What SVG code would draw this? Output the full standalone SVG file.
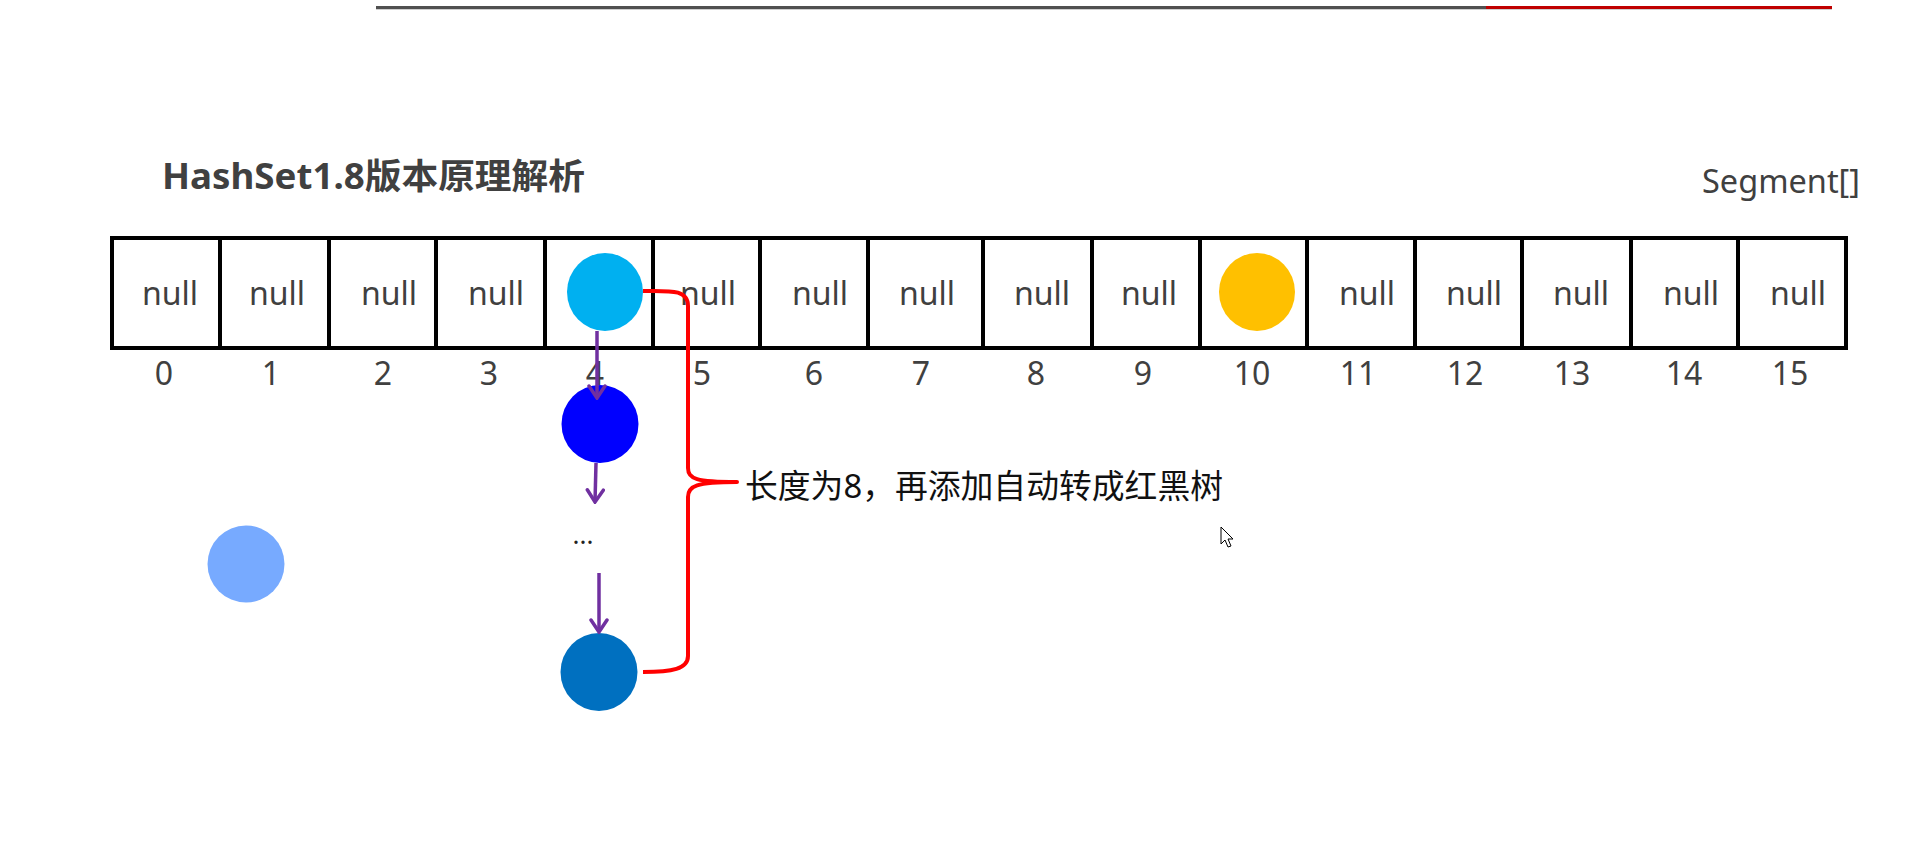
<svg xmlns="http://www.w3.org/2000/svg" width="1917" height="849" viewBox="0 0 1917 849">
<style>
.t{font-family:"Noto Sans","Noto Sans CJK SC",sans-serif;fill:#404040}
.null{font-size:32px;text-anchor:middle}
.idx{font-size:32px;text-anchor:middle}
.cell{fill:#fff;stroke:#000;stroke-width:4}
.arr{stroke:#7030A0;stroke-width:3.5;fill:none;marker-end:url(#ah)}
</style>
<defs>
<marker id="ah" viewBox="-15 -10 17 20" refX="0" refY="0" markerWidth="17" markerHeight="20" orient="auto" markerUnits="userSpaceOnUse">
<path d="M-12,-8 L0,0 L-12,8" fill="none" stroke="#7030A0" stroke-width="3.5" stroke-linecap="round" stroke-linejoin="miter"/>
</marker>
</defs>
<rect width="1917" height="849" fill="#fff"/>
<g id="topbar">
<rect x="376" y="6" width="1110" height="3" fill="#505050"/>
<rect x="1486" y="6" width="346" height="3" fill="#c00000"/>
<rect x="376" y="9" width="1456" height="1" fill="#cfcfcf"/>
</g>
<g id="title"><text class="t" x="162" y="189" font-size="35" font-weight="bold" textLength="423" lengthAdjust="spacingAndGlyphs">HashSet1.8版本原理解析</text></g>
<g id="segment-label"><text class="t" x="1702" y="193" font-size="33" textLength="158" lengthAdjust="spacingAndGlyphs">Segment[]</text></g>
<g id="array">
<rect class="cell" x="112" y="238" width="1734" height="110"/>
<path d="M220,238V348M329,238V348M436,238V348M545,238V348M653,238V348M760,238V348M868,238V348M983,238V348M1092,238V348M1200,238V348M1307,238V348M1415,238V348M1522,238V348M1631,238V348M1738,238V348" stroke="#000" stroke-width="4"/>
<g class="t null">
<text x="170" y="305">null</text>
<text x="277" y="305">null</text>
<text x="389" y="305">null</text>
<text x="496" y="305">null</text>
<text x="708" y="305">null</text>
<text x="820" y="305">null</text>
<text x="927" y="305">null</text>
<text x="1042" y="305">null</text>
<text x="1149" y="305">null</text>
<text x="1367" y="305">null</text>
<text x="1474" y="305">null</text>
<text x="1581" y="305">null</text>
<text x="1691" y="305">null</text>
<text x="1798" y="305">null</text>
</g>
<g class="t idx">
<text x="164" y="385">0</text>
<text x="271" y="385">1</text>
<text x="383" y="385">2</text>
<text x="489" y="385">3</text>
<text x="595" y="385">4</text>
<text x="702" y="385">5</text>
<text x="814" y="385">6</text>
<text x="921" y="385">7</text>
<text x="1036" y="385">8</text>
<text x="1143" y="385">9</text>
<text x="1252" y="385">10</text>
<text x="1358" y="385">11</text>
<text x="1465" y="385">12</text>
<text x="1572" y="385">13</text>
<text x="1684" y="385">14</text>
<text x="1790" y="385">15</text>
</g>
</g>
<g id="node-cyan"><ellipse cx="605" cy="292" rx="38" ry="39" fill="#00B0F0"/></g>
<g id="node-orange"><ellipse cx="1257" cy="292" rx="38" ry="39" fill="#FFC000"/></g>
<g id="node-blue"><ellipse cx="600" cy="424" rx="38.5" ry="39" fill="#0000FF"/></g>
<g id="node-darkblue"><ellipse cx="599" cy="672" rx="38.5" ry="39" fill="#0070C0"/></g>
<g id="node-lightblue"><circle cx="246" cy="564" r="38.5" fill="#77AAFF"/></g>
<g id="ellipsis"><text x="583" y="544" font-family="Noto Sans, sans-serif" font-size="26" text-anchor="middle" fill="#222">...</text></g>
<g id="connectors">
<line class="arr" x1="597" y1="331" x2="597" y2="398"/>
<line class="arr" x1="596" y1="463" x2="595" y2="502"/>
<line class="arr" x1="599" y1="573" x2="599" y2="632"/>
<path d="M643,291 C670,291 688,289 688,306 L688,468 C688,479 696,482 737,482 C696,482 688,486 688,497 L688,656 C688,669 672,672 643,672" fill="none" stroke="#FF0000" stroke-width="4" stroke-linejoin="round"/>
</g>
<g id="annotation"><text x="745" y="498" font-family="Noto Sans, Noto Sans CJK SC, sans-serif" font-size="33" fill="#111" textLength="478" lengthAdjust="spacingAndGlyphs">长度为8，再添加自动转成红黑树</text></g>
<g id="cursor"><path d="M1221,527 L1221,544 L1225,540 L1228,547 L1231,546 L1228,539 L1233,539 Z" fill="#fff" stroke="#000" stroke-width="1"/></g>
</svg>
